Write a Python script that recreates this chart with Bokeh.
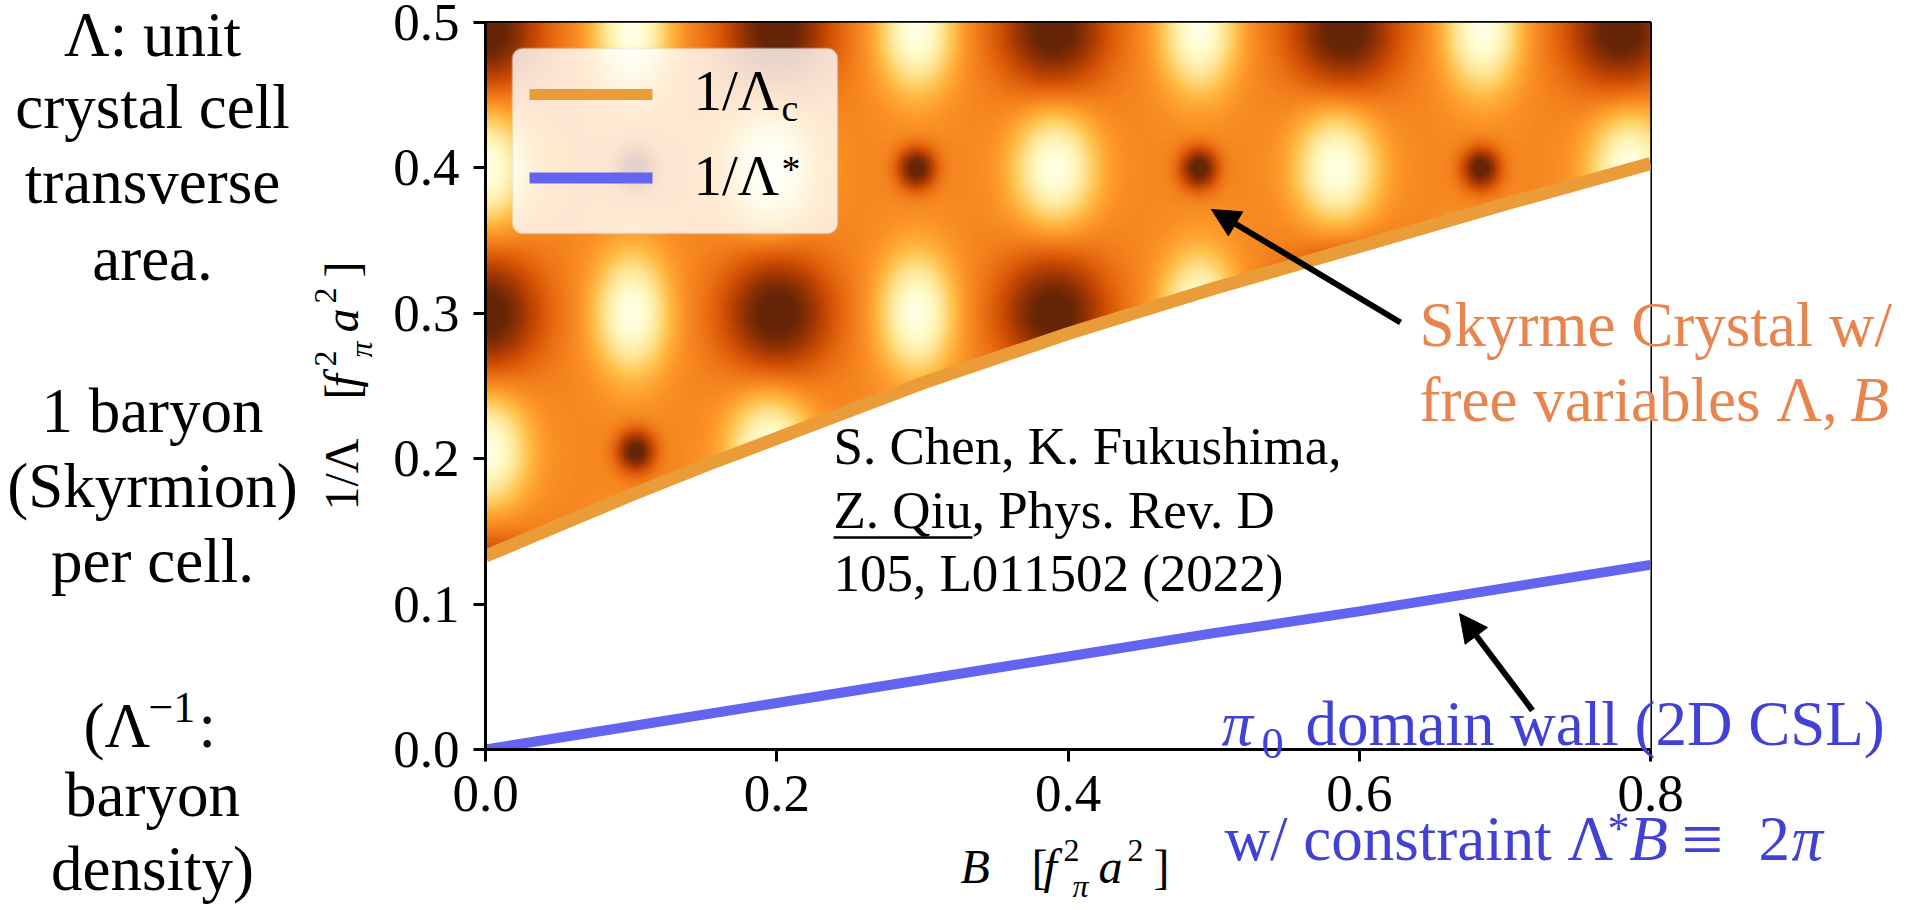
import numpy as np
from bokeh.plotting import figure
from bokeh.core.properties import value
from bokeh.models import (Range1d, FixedTicker, NumeralTickFormatter, Arrow,
                          NormalHead, BoxAnnotation, LinearColorMapper)
from bokeh.palettes import YlOrBr9, interp_palette
from bokeh.embed import file_html
from bokeh.resources import INLINE

# ---------------- data ----------------
B_c = [0.0, 0.05, 0.10, 0.15, 0.20, 0.30, 0.40, 0.50, 0.60, 0.70, 0.80]
inv_lambda_c = [0.133, 0.154, 0.175, 0.195, 0.214, 0.252, 0.286, 0.317, 0.346, 0.375, 0.403]
B_star = [0.0, 0.1, 0.2, 0.3, 0.4, 0.5, 0.6, 0.7, 0.8]
inv_lambda_star = [0.0, 0.016, 0.032, 0.048, 0.064, 0.080, 0.095, 0.111, 0.127]

x_ticks = [0.0, 0.2, 0.4, 0.6, 0.8]
y_ticks = [0.0, 0.1, 0.2, 0.3, 0.4, 0.5]

# crystal background: spot centres (B, 1/Lambda)
rowsA_y = [0.10, 0.30, 0.495]
darkA_B = [0.0, 0.20, 0.39, 0.59, 0.78]
brightA_B = [0.10, 0.296, 0.49, 0.685]
rowsB_y = [0.205, 0.40]
brightB_B = [0.0, 0.195, 0.391, 0.585, 0.787]
darkB_B = [0.103, 0.296, 0.49, 0.684]

left_lines = ["\u039b: unit", "crystal cell", "transverse", "area.",
              "1 baryon", "(Skyrmion)", "per cell.", "baryon", "density)"]
left_baselines = [58, 130, 205, 282, 434, 509, 584, 818, 892]

# ---------------- layout helpers (page pixels -> data) ----------------
W, H = 1907, 910
FL, FR, FT, FB = 485, 1650, 22, 749
XMAX, YMAX = 0.8, 0.5
KB = 0.38  # baseline correction for the text renderer


def fx(px):
    return (px - FL) / (FR - FL) * XMAX


def fy(py):
    return (FB - py) / (FB - FT) * YMAX


SERIF = "Liberation Serif"

p = figure(width=W, height=H, x_range=Range1d(0, XMAX), y_range=Range1d(0, YMAX),
           output_backend="svg", toolbar_location=None,
           min_border_left=FL, min_border_top=FT,
           min_border_right=W - FR, min_border_bottom=H - FB)
p.grid.visible = False
p.outline_line_color = "black"
p.outline_line_width = 3
p.background_fill_color = "white"
p.border_fill_color = "white"

# ---------------- background crystal image ----------------
nx, ny = 760, 480
gx = np.linspace(0, XMAX, nx)
gy = np.linspace(0, YMAX, ny)
X, Y = np.meshgrid(gx, gy)
F = np.full_like(X, 0.45)


def bump(cx, cy, sx, sy):
    return np.exp(-((X - cx) ** 2 / (2 * sx ** 2) + (Y - cy) ** 2 / (2 * sy ** 2)))


for yy in rowsA_y:
    for b in darkA_B:
        F -= 0.5 * bump(b, yy, 0.026, 0.028)
    for b in brightA_B:
        F += 0.55 * bump(b, yy, 0.017, 0.028)
for yy in rowsB_y:
    for b in brightB_B:
        F += 0.55 * bump(b, yy, 0.019, 0.026)
    for b in darkB_B:
        F -= 0.5 * bump(b, yy, 0.009, 0.010)
F = np.clip(F, 0, 1)
F[Y < np.interp(X, B_c, inv_lambda_c)] = np.nan

mapper = LinearColorMapper(palette=interp_palette(YlOrBr9, 256), low=0, high=1, nan_color="white")
p.image(image=[F.astype(np.float32)], x=0, y=0, dw=XMAX, dh=YMAX, color_mapper=mapper)
p.varea(x=B_c, y1=[0] * len(B_c), y2=inv_lambda_c, fill_color="white")

ORANGE = "#E99C38"
BLUE = "#6464F2"
p.line(B_c, inv_lambda_c, line_color=ORANGE, line_width=13)
p.line(B_star, inv_lambda_star, line_color=BLUE, line_width=10)

# ---------------- axes ----------------
for ax in (p.xaxis, p.yaxis):
    ax.formatter = NumeralTickFormatter(format="0.0")
    ax.major_label_text_font = SERIF
    ax.major_label_text_font_size = "53px"
    ax.major_label_text_color = "black"
    ax.axis_line_width = 3
    ax.major_tick_line_width = 3
    ax.major_tick_out = 12
    ax.major_tick_in = 0
    ax.minor_tick_out = 0
    ax.minor_tick_in = 0
p.xaxis.ticker = FixedTicker(ticks=x_ticks)
p.yaxis.ticker = FixedTicker(ticks=y_ticks)
p.xaxis.major_label_standoff = 14
p.yaxis.major_label_standoff = 14


def txt(text, px, py, size, color="black", style="normal", align="left", rot=False):
    """place text with its baseline at page pixel (px, py)"""
    if rot:
        ax_, ay_ = px - KB * size, py
        ang = np.pi / 2
    else:
        ax_, ay_ = px, py - KB * size
        ang = 0.0
    p.text(x=[fx(ax_)], y=[fy(ay_)], text=[text], text_font=value(SERIF),
           text_font_size=f"{size}px", text_color=color, text_font_style=style,
           text_align=align, text_baseline="alphabetic", angle=ang, level="overlay")


# axis labels (composed pieces)
AX = 48
SUB = 32
txt("B", 960, 884, AX, style="italic")
txt("[", 1031, 884, AX)
txt("f", 1043, 884, AX, style="italic")
txt("2", 1063, 862, SUB)
txt("\u03c0", 1072, 898, SUB, style="italic")
txt("a", 1098, 884, AX, style="italic")
txt("2", 1127, 862, SUB)
txt("]", 1153, 884, AX)

YB = 359
txt("1/\u039b", YB, 510, AX, rot=True)
txt("[", YB, 399, AX, rot=True)
txt("f", YB, 387, AX, style="italic", rot=True)
txt("2", YB - 22, 366, SUB, rot=True)
txt("\u03c0", YB + 14, 357, SUB, style="italic", rot=True)
txt("a", YB, 332, AX, style="italic", rot=True)
txt("2", YB - 22, 303, SUB, rot=True)
txt("]", YB, 277, AX, rot=True)

# ---------------- legend ----------------
p.add_layout(BoxAnnotation(left=fx(512), right=fx(837), top=fy(48), bottom=fy(233),
                           fill_color="white", fill_alpha=0.8, line_color="#cccccc",
                           line_width=2, border_radius=10))
p.add_layout(BoxAnnotation(left=fx(529), right=fx(652), top=fy(88.5), bottom=fy(99.5),
                           fill_color=ORANGE, fill_alpha=1, line_alpha=0))
p.add_layout(BoxAnnotation(left=fx(529), right=fx(652), top=fy(172), bottom=fy(183),
                           fill_color=BLUE, fill_alpha=1, line_alpha=0))
txt("1/\u039b", 693, 112, 57)
txt("c", 781, 122, 38)
txt("1/\u039b", 693, 197, 57)
txt("*", 781, 183, 38)

# ---------------- citation ----------------
CIT = 53
txt("S. Chen, K. Fukushima,", 833, 466, CIT)
txt("Z. Qiu, Phys. Rev. D", 833, 530, CIT)
txt("105, L011502 (2022)", 833, 593, CIT)
p.segment(x0=[fx(833)], y0=[fy(537)], x1=[fx(972)], y1=[fy(537)], line_color="black",
          line_width=2.5, level="overlay")

# ---------------- annotations ----------------
p.add_layout(Arrow(end=NormalHead(size=28, fill_color="black", line_color="black"),
                   x_start=fx(1400), y_start=fy(322), x_end=fx(1211), y_end=fy(209),
                   line_color="black", line_width=6))
p.add_layout(Arrow(end=NormalHead(size=28, fill_color="black", line_color="black"),
                   x_start=fx(1532), y_start=fy(710), x_end=fx(1459), y_end=fy(613),
                   line_color="black", line_width=6))

TXT_OR = "#E8854F"
TXT_BL = "#4141D6"
RT = 63
txt("Skyrme Crystal w/", 1419, 348, RT, color=TXT_OR)
txt("free variables \u039b, ", 1419, 423, RT, color=TXT_OR)
txt("B", 1850, 423, RT, color=TXT_OR, style="italic")

txt("\u03c0", 1221, 747, RT, color=TXT_BL, style="italic")
txt("0", 1261, 760, 44, color=TXT_BL)
txt("domain wall (2D CSL)", 1305, 747, RT, color=TXT_BL)
txt("w/ constraint \u039b", 1224, 862, RT, color=TXT_BL)
txt("*", 1607, 845, 44, color=TXT_BL)
txt("B", 1629, 862, RT, color=TXT_BL, style="italic")
txt("\u2261", 1681, 867, 74, color=TXT_BL)
txt("2", 1758, 862, RT, color=TXT_BL)
txt("\u03c0", 1791, 862, RT, color=TXT_BL, style="italic")

# ---------------- left column text ----------------
LT = 63
for t, b in zip(left_lines, left_baselines):
    txt(t, 152, b, LT, align="center")
txt("(\u039b", 83, 749, LT)
txt("\u22121", 148, 724, 44)
txt(":", 198, 749, LT)

open("out.html", "w").write(file_html(p, INLINE))
